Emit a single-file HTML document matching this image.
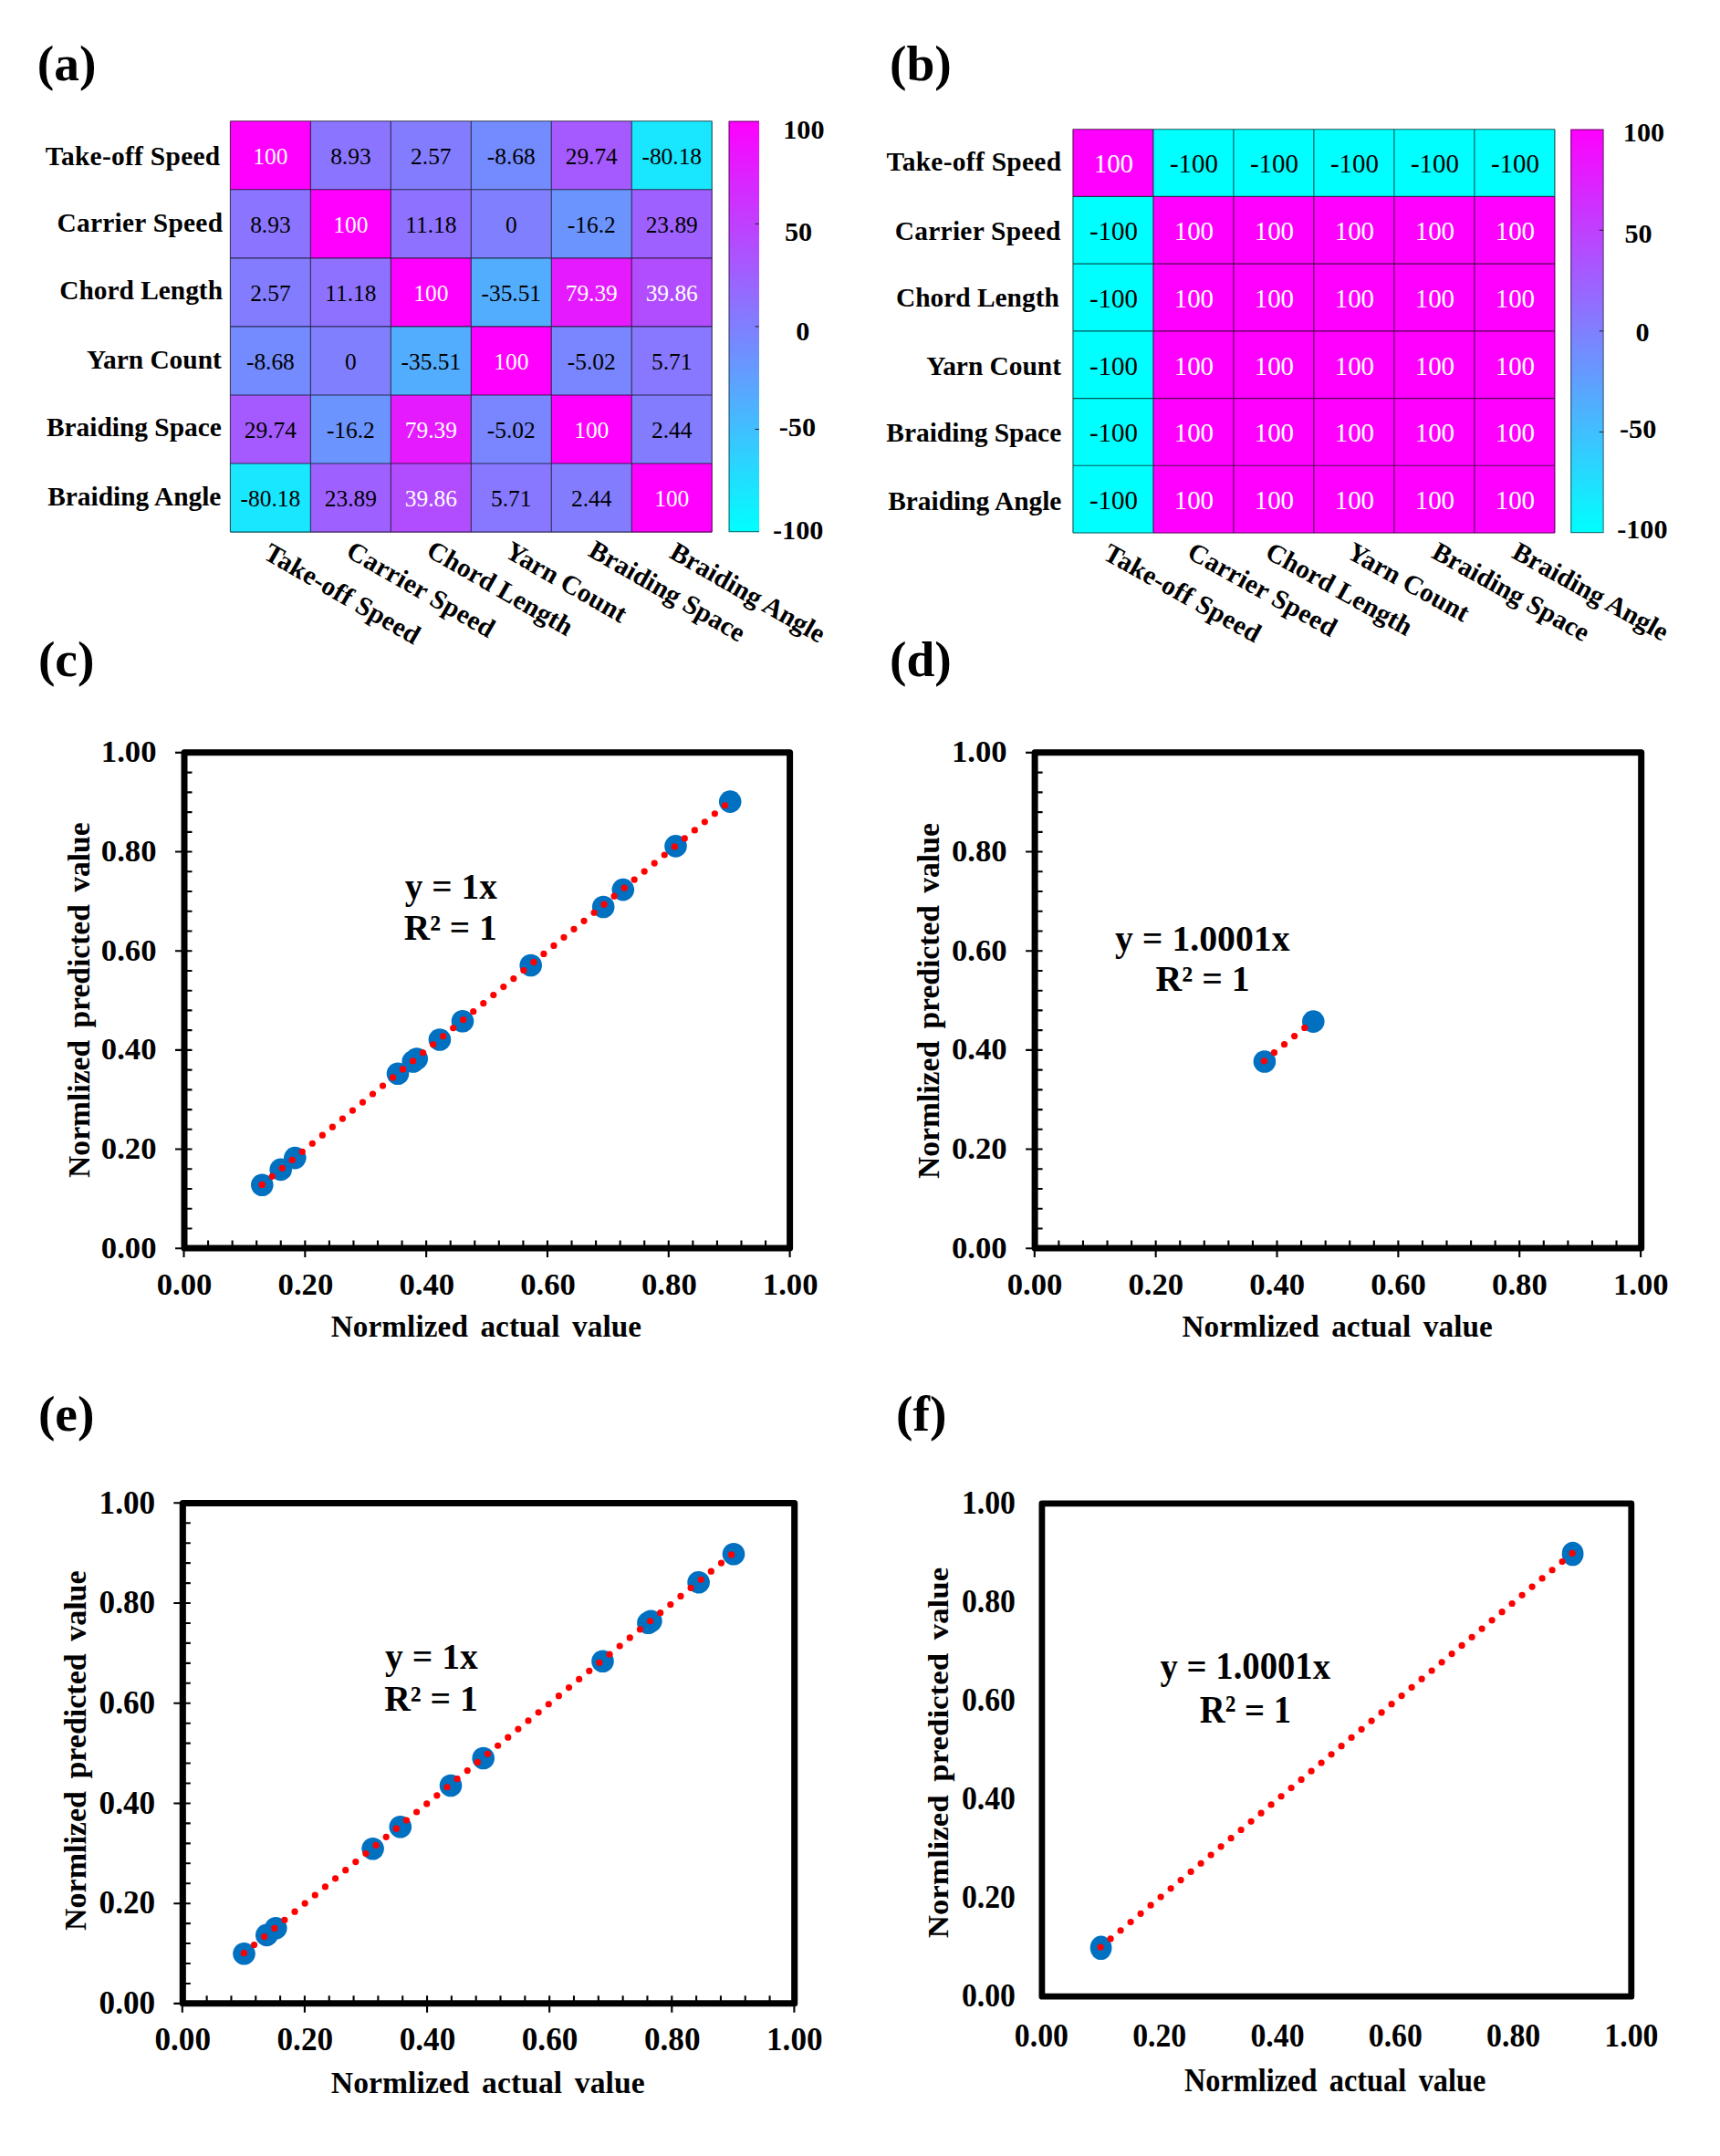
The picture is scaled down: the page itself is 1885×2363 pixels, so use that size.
<!DOCTYPE html>
<html lang="en"><head><meta charset="utf-8"><title>Figure</title>
<style>html,body{margin:0;padding:0;background:#fff}svg{display:block}text{font-family:'Liberation Serif', serif;white-space:pre}</style>
</head><body>
<svg width="1885" height="2363" viewBox="0 0 1885 2363">
<defs><linearGradient id="cool" x1="0" y1="0" x2="0" y2="1"><stop offset="0" stop-color="#ff00ff"/><stop offset="1" stop-color="#00ffff"/></linearGradient></defs>
<rect width="1885" height="2363" fill="#fff"/>
<g font-size="55.5" font-weight="bold">
<text x="40.7" y="88">(a)</text>
<text x="975" y="88">(b)</text>
<text x="41.9" y="740.6">(c)</text>
<text x="975" y="740.6">(d)</text>
<text x="41.9" y="1567.8">(e)</text>
<text x="982" y="1567.8">(f)</text>
</g>
<g>
<rect x="252.4" y="132.7" width="88.27" height="75.37" fill="#ff00ff"/>
<rect x="340.37" y="132.7" width="88.27" height="75.37" fill="#8b74ff"/>
<rect x="428.34" y="132.7" width="88.27" height="75.37" fill="#837cff"/>
<rect x="516.31" y="132.7" width="88.27" height="75.37" fill="#748bff"/>
<rect x="604.28" y="132.7" width="88.27" height="75.37" fill="#a55aff"/>
<rect x="692.25" y="132.7" width="88.27" height="75.37" fill="#19e6ff"/>
<rect x="252.4" y="207.77" width="88.27" height="75.37" fill="#8b74ff"/>
<rect x="340.37" y="207.77" width="88.27" height="75.37" fill="#ff00ff"/>
<rect x="428.34" y="207.77" width="88.27" height="75.37" fill="#8e71ff"/>
<rect x="516.31" y="207.77" width="88.27" height="75.37" fill="#8080ff"/>
<rect x="604.28" y="207.77" width="88.27" height="75.37" fill="#6b94ff"/>
<rect x="692.25" y="207.77" width="88.27" height="75.37" fill="#9e61ff"/>
<rect x="252.4" y="282.84" width="88.27" height="75.37" fill="#837cff"/>
<rect x="340.37" y="282.84" width="88.27" height="75.37" fill="#8e71ff"/>
<rect x="428.34" y="282.84" width="88.27" height="75.37" fill="#ff00ff"/>
<rect x="516.31" y="282.84" width="88.27" height="75.37" fill="#52adff"/>
<rect x="604.28" y="282.84" width="88.27" height="75.37" fill="#e51aff"/>
<rect x="692.25" y="282.84" width="88.27" height="75.37" fill="#b24dff"/>
<rect x="252.4" y="357.91" width="88.27" height="75.37" fill="#748bff"/>
<rect x="340.37" y="357.91" width="88.27" height="75.37" fill="#8080ff"/>
<rect x="428.34" y="357.91" width="88.27" height="75.37" fill="#52adff"/>
<rect x="516.31" y="357.91" width="88.27" height="75.37" fill="#ff00ff"/>
<rect x="604.28" y="357.91" width="88.27" height="75.37" fill="#7986ff"/>
<rect x="692.25" y="357.91" width="88.27" height="75.37" fill="#8778ff"/>
<rect x="252.4" y="432.98" width="88.27" height="75.37" fill="#a55aff"/>
<rect x="340.37" y="432.98" width="88.27" height="75.37" fill="#6b94ff"/>
<rect x="428.34" y="432.98" width="88.27" height="75.37" fill="#e51aff"/>
<rect x="516.31" y="432.98" width="88.27" height="75.37" fill="#7986ff"/>
<rect x="604.28" y="432.98" width="88.27" height="75.37" fill="#ff00ff"/>
<rect x="692.25" y="432.98" width="88.27" height="75.37" fill="#837cff"/>
<rect x="252.4" y="508.05" width="88.27" height="75.37" fill="#19e6ff"/>
<rect x="340.37" y="508.05" width="88.27" height="75.37" fill="#9e61ff"/>
<rect x="428.34" y="508.05" width="88.27" height="75.37" fill="#b24dff"/>
<rect x="516.31" y="508.05" width="88.27" height="75.37" fill="#8778ff"/>
<rect x="604.28" y="508.05" width="88.27" height="75.37" fill="#837cff"/>
<rect x="692.25" y="508.05" width="88.27" height="75.37" fill="#ff00ff"/>
<path d="M252.4 132.7V583.12M252.4 132.7H780.22M340.37 132.7V583.12M252.4 207.77H780.22M428.34 132.7V583.12M252.4 282.84H780.22M516.31 132.7V583.12M252.4 357.91H780.22M604.28 132.7V583.12M252.4 432.98H780.22M692.25 132.7V583.12M252.4 508.05H780.22M780.22 132.7V583.12M252.4 583.12H780.22" stroke="#000" stroke-opacity="0.68" stroke-width="1.1" fill="none"/>
<g font-size="25.4" text-anchor="middle">
<text x="296.38" y="179.73" fill="#fff">100</text>
<text x="384.36" y="179.73">8.93</text>
<text x="472.33" y="179.73">2.57</text>
<text x="560.29" y="179.73">-8.68</text>
<text x="648.26" y="179.73">29.74</text>
<text x="736.24" y="179.73">-80.18</text>
<text x="296.38" y="254.8">8.93</text>
<text x="384.36" y="254.8" fill="#fff">100</text>
<text x="472.33" y="254.8">11.18</text>
<text x="560.29" y="254.8">0</text>
<text x="648.26" y="254.8">-16.2</text>
<text x="736.24" y="254.8">23.89</text>
<text x="296.38" y="329.88">2.57</text>
<text x="384.36" y="329.88">11.18</text>
<text x="472.33" y="329.88" fill="#fff">100</text>
<text x="560.29" y="329.88">-35.51</text>
<text x="648.26" y="329.88" fill="#fff">79.39</text>
<text x="736.24" y="329.88" fill="#fff">39.86</text>
<text x="296.38" y="404.94">-8.68</text>
<text x="384.36" y="404.94">0</text>
<text x="472.33" y="404.94">-35.51</text>
<text x="560.29" y="404.94" fill="#fff">100</text>
<text x="648.26" y="404.94">-5.02</text>
<text x="736.24" y="404.94">5.71</text>
<text x="296.38" y="480.01">29.74</text>
<text x="384.36" y="480.01">-16.2</text>
<text x="472.33" y="480.01" fill="#fff">79.39</text>
<text x="560.29" y="480.01">-5.02</text>
<text x="648.26" y="480.01" fill="#fff">100</text>
<text x="736.24" y="480.01">2.44</text>
<text x="296.38" y="555.09">-80.18</text>
<text x="384.36" y="555.09">23.89</text>
<text x="472.33" y="555.09" fill="#fff">39.86</text>
<text x="560.29" y="555.09">5.71</text>
<text x="648.26" y="555.09">2.44</text>
<text x="736.24" y="555.09" fill="#fff">100</text>
</g>
<g font-size="29.4" font-weight="bold" text-anchor="end">
<text x="241.2" y="181" textLength="191.5">Take-off Speed</text>
<text x="244" y="254.4" textLength="181.5">Carrier Speed</text>
<text x="244" y="327.9">Chord Length</text>
<text x="242.8" y="404">Yarn Count</text>
<text x="242.8" y="478.4">Braiding Space</text>
<text x="242.4" y="553.7">Braiding Angle</text>
</g>
<g font-size="29.4" font-weight="bold">
<text transform="translate(287.4 611.5) rotate(29.9)" textLength="191.5">Take-off Speed</text>
<text transform="translate(377.87 609.2) rotate(29.9)" textLength="181.5">Carrier Speed</text>
<text transform="translate(465.84 608.5) rotate(29.9)">Chord Length</text>
<text transform="translate(551.81 609.6) rotate(29.9)">Yarn Count</text>
<text transform="translate(643.28 608.5) rotate(29.9)">Braiding Space</text>
<text transform="translate(732.25 610.5) rotate(29.9)">Braiding Angle</text>
</g>
<rect x="798.6" y="132.7" width="33.4" height="450.42" fill="url(#cool)"/>
<path d="M832 133.1H799.1V582.72H832" stroke="#000" stroke-opacity="0.5" stroke-width="1.2" fill="none"/>
<path d="M827.5 245.3H832M827.5 357.91H832M827.5 470.51H832" stroke="#202020" stroke-width="1" fill="none"/>
<g font-size="30.2" font-weight="bold">
<text x="858.2" y="151.6">100</text>
<text x="860" y="263.5">50</text>
<text x="872.2" y="372.8">0</text>
<text x="853.8" y="477.6">-50</text>
<text x="847" y="591">-100</text>
</g>
</g>
<g>
<rect x="1175.9" y="141.7" width="88.3" height="74.02" fill="#ff00ff"/>
<rect x="1263.9" y="141.7" width="88.3" height="74.02" fill="#00ffff"/>
<rect x="1351.9" y="141.7" width="88.3" height="74.02" fill="#00ffff"/>
<rect x="1439.9" y="141.7" width="88.3" height="74.02" fill="#00ffff"/>
<rect x="1527.9" y="141.7" width="88.3" height="74.02" fill="#00ffff"/>
<rect x="1615.9" y="141.7" width="88.3" height="74.02" fill="#00ffff"/>
<rect x="1175.9" y="215.42" width="88.3" height="74.02" fill="#00ffff"/>
<rect x="1263.9" y="215.42" width="88.3" height="74.02" fill="#ff00ff"/>
<rect x="1351.9" y="215.42" width="88.3" height="74.02" fill="#ff00ff"/>
<rect x="1439.9" y="215.42" width="88.3" height="74.02" fill="#ff00ff"/>
<rect x="1527.9" y="215.42" width="88.3" height="74.02" fill="#ff00ff"/>
<rect x="1615.9" y="215.42" width="88.3" height="74.02" fill="#ff00ff"/>
<rect x="1175.9" y="289.14" width="88.3" height="74.02" fill="#00ffff"/>
<rect x="1263.9" y="289.14" width="88.3" height="74.02" fill="#ff00ff"/>
<rect x="1351.9" y="289.14" width="88.3" height="74.02" fill="#ff00ff"/>
<rect x="1439.9" y="289.14" width="88.3" height="74.02" fill="#ff00ff"/>
<rect x="1527.9" y="289.14" width="88.3" height="74.02" fill="#ff00ff"/>
<rect x="1615.9" y="289.14" width="88.3" height="74.02" fill="#ff00ff"/>
<rect x="1175.9" y="362.86" width="88.3" height="74.02" fill="#00ffff"/>
<rect x="1263.9" y="362.86" width="88.3" height="74.02" fill="#ff00ff"/>
<rect x="1351.9" y="362.86" width="88.3" height="74.02" fill="#ff00ff"/>
<rect x="1439.9" y="362.86" width="88.3" height="74.02" fill="#ff00ff"/>
<rect x="1527.9" y="362.86" width="88.3" height="74.02" fill="#ff00ff"/>
<rect x="1615.9" y="362.86" width="88.3" height="74.02" fill="#ff00ff"/>
<rect x="1175.9" y="436.58" width="88.3" height="74.02" fill="#00ffff"/>
<rect x="1263.9" y="436.58" width="88.3" height="74.02" fill="#ff00ff"/>
<rect x="1351.9" y="436.58" width="88.3" height="74.02" fill="#ff00ff"/>
<rect x="1439.9" y="436.58" width="88.3" height="74.02" fill="#ff00ff"/>
<rect x="1527.9" y="436.58" width="88.3" height="74.02" fill="#ff00ff"/>
<rect x="1615.9" y="436.58" width="88.3" height="74.02" fill="#ff00ff"/>
<rect x="1175.9" y="510.3" width="88.3" height="74.02" fill="#00ffff"/>
<rect x="1263.9" y="510.3" width="88.3" height="74.02" fill="#ff00ff"/>
<rect x="1351.9" y="510.3" width="88.3" height="74.02" fill="#ff00ff"/>
<rect x="1439.9" y="510.3" width="88.3" height="74.02" fill="#ff00ff"/>
<rect x="1527.9" y="510.3" width="88.3" height="74.02" fill="#ff00ff"/>
<rect x="1615.9" y="510.3" width="88.3" height="74.02" fill="#ff00ff"/>
<path d="M1175.9 141.7V584.02M1175.9 141.7H1703.9M1263.9 141.7V584.02M1175.9 215.42H1703.9M1351.9 141.7V584.02M1175.9 289.14H1703.9M1439.9 141.7V584.02M1175.9 362.86H1703.9M1527.9 141.7V584.02M1175.9 436.58H1703.9M1615.9 141.7V584.02M1175.9 510.3H1703.9M1703.9 141.7V584.02M1175.9 584.02H1703.9" stroke="#000" stroke-opacity="0.68" stroke-width="1.1" fill="none"/>
<g font-size="28.9" text-anchor="middle">
<text x="1220.4" y="189.46" fill="#fff">100</text>
<text x="1308.4" y="189.46">-100</text>
<text x="1396.4" y="189.46">-100</text>
<text x="1484.4" y="189.46">-100</text>
<text x="1572.4" y="189.46">-100</text>
<text x="1660.4" y="189.46">-100</text>
<text x="1220.4" y="263.18">-100</text>
<text x="1308.4" y="263.18" fill="#fff">100</text>
<text x="1396.4" y="263.18" fill="#fff">100</text>
<text x="1484.4" y="263.18" fill="#fff">100</text>
<text x="1572.4" y="263.18" fill="#fff">100</text>
<text x="1660.4" y="263.18" fill="#fff">100</text>
<text x="1220.4" y="336.9">-100</text>
<text x="1308.4" y="336.9" fill="#fff">100</text>
<text x="1396.4" y="336.9" fill="#fff">100</text>
<text x="1484.4" y="336.9" fill="#fff">100</text>
<text x="1572.4" y="336.9" fill="#fff">100</text>
<text x="1660.4" y="336.9" fill="#fff">100</text>
<text x="1220.4" y="410.62">-100</text>
<text x="1308.4" y="410.62" fill="#fff">100</text>
<text x="1396.4" y="410.62" fill="#fff">100</text>
<text x="1484.4" y="410.62" fill="#fff">100</text>
<text x="1572.4" y="410.62" fill="#fff">100</text>
<text x="1660.4" y="410.62" fill="#fff">100</text>
<text x="1220.4" y="484.34">-100</text>
<text x="1308.4" y="484.34" fill="#fff">100</text>
<text x="1396.4" y="484.34" fill="#fff">100</text>
<text x="1484.4" y="484.34" fill="#fff">100</text>
<text x="1572.4" y="484.34" fill="#fff">100</text>
<text x="1660.4" y="484.34" fill="#fff">100</text>
<text x="1220.4" y="558.06">-100</text>
<text x="1308.4" y="558.06" fill="#fff">100</text>
<text x="1396.4" y="558.06" fill="#fff">100</text>
<text x="1484.4" y="558.06" fill="#fff">100</text>
<text x="1572.4" y="558.06" fill="#fff">100</text>
<text x="1660.4" y="558.06" fill="#fff">100</text>
</g>
<g font-size="29.4" font-weight="bold" text-anchor="end">
<text x="1163" y="186.5" textLength="191.5">Take-off Speed</text>
<text x="1162.3" y="263.3" textLength="181.5">Carrier Speed</text>
<text x="1160.8" y="335.8">Chord Length</text>
<text x="1163" y="410.9">Yarn Count</text>
<text x="1163.2" y="484.2">Braiding Space</text>
<text x="1163.4" y="558.8">Braiding Angle</text>
</g>
<g font-size="29.4" font-weight="bold">
<text transform="translate(1207.6 611.9) rotate(29.1)" textLength="191.5">Take-off Speed</text>
<text transform="translate(1299.6 610.5) rotate(29.1)" textLength="181.5">Carrier Speed</text>
<text transform="translate(1384.9 610.5) rotate(29.1)">Chord Length</text>
<text transform="translate(1474.4 610.5) rotate(29.1)">Yarn Count</text>
<text transform="translate(1567.4 610.5) rotate(29.1)">Braiding Space</text>
<text transform="translate(1655.4 610.5) rotate(29.1)">Braiding Angle</text>
</g>
<rect x="1721.3" y="141.7" width="35.9" height="442.32" fill="url(#cool)"/>
<path d="M1757.2 142.1H1721.8V583.62H1757.2Z" stroke="#000" stroke-opacity="0.5" stroke-width="1.2" fill="none"/>
<path d="M1752.7 252.28H1757.2M1752.7 362.86H1757.2M1752.7 473.44H1757.2" stroke="#202020" stroke-width="1" fill="none"/>
<g font-size="30.2" font-weight="bold">
<text x="1778.8" y="154.7">100</text>
<text x="1780.4" y="266.3">50</text>
<text x="1792.5" y="374.3">0</text>
<text x="1775" y="479.9">-50</text>
<text x="1772.2" y="590.1">-100</text>
</g>
</g>
<g>
<g fill="#0070c0">
<circle cx="287.3" cy="1298.8" r="12.3"/>
<circle cx="307.7" cy="1281.9" r="12.3"/>
<circle cx="323.3" cy="1269.1" r="12.3"/>
<circle cx="436" cy="1176.7" r="12.3"/>
<circle cx="452.7" cy="1163.5" r="12.3"/>
<circle cx="456.7" cy="1160.5" r="12.3"/>
<circle cx="481.9" cy="1139.5" r="12.3"/>
<circle cx="507" cy="1119.3" r="12.3"/>
<circle cx="581.7" cy="1058" r="12.3"/>
<circle cx="661.2" cy="994" r="12.3"/>
<circle cx="682.8" cy="975.1" r="12.3"/>
<circle cx="740.5" cy="927.4" r="12.3"/>
<circle cx="800.2" cy="878.6" r="12.3"/>
</g>
<path d="M287.2 1298.4L800 878.2" stroke="#ff0000" stroke-width="7.2" stroke-linecap="round" stroke-dasharray="0 14.255" fill="none"/>
<rect x="202" y="824.8" width="663.6" height="543.1" fill="none" stroke="#000" stroke-width="7" stroke-linejoin="round"/>
<path d="M192 1368.2H210.5M202 1346.47H210.5M202 1324.74H210.5M202 1303H210.5M202 1281.27H210.5M192 1259.54H210.5M202 1237.81H210.5M202 1216.08H210.5M202 1194.34H210.5M202 1172.61H210.5M192 1150.88H210.5M202 1129.15H210.5M202 1107.42H210.5M202 1085.68H210.5M202 1063.95H210.5M192 1042.22H210.5M202 1020.49H210.5M202 998.76H210.5M202 977.02H210.5M202 955.29H210.5M192 933.56H210.5M202 911.83H210.5M202 890.1H210.5M202 868.36H210.5M202 846.63H210.5M192 824.9H210.5M201.5 1377.9V1359.4M228.06 1367.9V1359.4M254.63 1367.9V1359.4M281.19 1367.9V1359.4M307.76 1367.9V1359.4M334.32 1377.9V1359.4M360.88 1367.9V1359.4M387.45 1367.9V1359.4M414.01 1367.9V1359.4M440.58 1367.9V1359.4M467.14 1377.9V1359.4M493.7 1367.9V1359.4M520.27 1367.9V1359.4M546.83 1367.9V1359.4M573.4 1367.9V1359.4M599.96 1377.9V1359.4M626.52 1367.9V1359.4M653.09 1367.9V1359.4M679.65 1367.9V1359.4M706.22 1367.9V1359.4M732.78 1377.9V1359.4M759.34 1367.9V1359.4M785.91 1367.9V1359.4M812.47 1367.9V1359.4M839.04 1367.9V1359.4M865.6 1377.9V1359.4" stroke="#000" stroke-width="2.1" fill="none"/>
<g font-size="34.7" font-weight="bold">
<g text-anchor="end">
<text x="171.5" y="1378.6">0.00</text>
<text x="171.5" y="1269.94">0.20</text>
<text x="171.5" y="1161.28">0.40</text>
<text x="171.5" y="1052.62">0.60</text>
<text x="171.5" y="943.96">0.80</text>
<text x="171.5" y="835.3">1.00</text>
</g><g text-anchor="middle">
<text x="202.1" y="1419.2">0.00</text>
<text x="334.92" y="1419.2">0.20</text>
<text x="467.74" y="1419.2">0.40</text>
<text x="600.56" y="1419.2">0.60</text>
<text x="733.38" y="1419.2">0.80</text>
<text x="866.2" y="1419.2">1.00</text>
</g></g>
<text x="362.8" y="1464.9" font-size="33.2" font-weight="bold" word-spacing="5" textLength="340.2" lengthAdjust="spacing">Normlized actual value</text>
<text transform="translate(98.1 1290.9) rotate(-90)" font-size="34.3" font-weight="bold" word-spacing="5" textLength="389.6" lengthAdjust="spacingAndGlyphs">Normlized predicted value</text>
<text x="443.8" y="984.5" font-size="39.3" font-weight="bold">y = 1x</text>
<text x="442.8" y="1029.8" font-size="39.3" font-weight="bold">R² = 1</text>
</g>
<g>
<g fill="#0070c0">
<circle cx="1385.9" cy="1163.5" r="12.3"/>
<circle cx="1439.3" cy="1119.6" r="12.3"/>
</g>
<path d="M1385.4 1162.8L1432 1124.6" stroke="#ff0000" stroke-width="7.2" stroke-linecap="round" stroke-dasharray="0 14.318" fill="none"/>
<rect x="1134.1" y="824.8" width="664.6" height="543.1" fill="none" stroke="#000" stroke-width="7" stroke-linejoin="round"/>
<path d="M1124.1 1368.2H1142.6M1134.1 1346.47H1142.6M1134.1 1324.74H1142.6M1134.1 1303H1142.6M1134.1 1281.27H1142.6M1124.1 1259.54H1142.6M1134.1 1237.81H1142.6M1134.1 1216.08H1142.6M1134.1 1194.34H1142.6M1134.1 1172.61H1142.6M1124.1 1150.88H1142.6M1134.1 1129.15H1142.6M1134.1 1107.42H1142.6M1134.1 1085.68H1142.6M1134.1 1063.95H1142.6M1124.1 1042.22H1142.6M1134.1 1020.49H1142.6M1134.1 998.76H1142.6M1134.1 977.02H1142.6M1134.1 955.29H1142.6M1124.1 933.56H1142.6M1134.1 911.83H1142.6M1134.1 890.1H1142.6M1134.1 868.36H1142.6M1134.1 846.63H1142.6M1124.1 824.9H1142.6M1133.8 1377.9V1359.4M1160.37 1367.9V1359.4M1186.94 1367.9V1359.4M1213.52 1367.9V1359.4M1240.09 1367.9V1359.4M1266.66 1377.9V1359.4M1293.23 1367.9V1359.4M1319.8 1367.9V1359.4M1346.38 1367.9V1359.4M1372.95 1367.9V1359.4M1399.52 1377.9V1359.4M1426.09 1367.9V1359.4M1452.66 1367.9V1359.4M1479.24 1367.9V1359.4M1505.81 1367.9V1359.4M1532.38 1377.9V1359.4M1558.95 1367.9V1359.4M1585.52 1367.9V1359.4M1612.1 1367.9V1359.4M1638.67 1367.9V1359.4M1665.24 1377.9V1359.4M1691.81 1367.9V1359.4M1718.38 1367.9V1359.4M1744.96 1367.9V1359.4M1771.53 1367.9V1359.4M1798.1 1377.9V1359.4" stroke="#000" stroke-width="2.1" fill="none"/>
<g font-size="34.7" font-weight="bold">
<g text-anchor="end">
<text x="1103.7" y="1378.6">0.00</text>
<text x="1103.7" y="1269.94">0.20</text>
<text x="1103.7" y="1161.28">0.40</text>
<text x="1103.7" y="1052.62">0.60</text>
<text x="1103.7" y="943.96">0.80</text>
<text x="1103.7" y="835.3">1.00</text>
</g><g text-anchor="middle">
<text x="1134" y="1419.2">0.00</text>
<text x="1266.86" y="1419.2">0.20</text>
<text x="1399.72" y="1419.2">0.40</text>
<text x="1532.58" y="1419.2">0.60</text>
<text x="1665.44" y="1419.2">0.80</text>
<text x="1798.3" y="1419.2">1.00</text>
</g></g>
<text x="1295.5" y="1465.4" font-size="33.2" font-weight="bold" word-spacing="5" textLength="340.3" lengthAdjust="spacing">Normlized actual value</text>
<text transform="translate(1028.8 1292) rotate(-90)" font-size="34" font-weight="bold" word-spacing="5" textLength="389.8" lengthAdjust="spacingAndGlyphs">Normlized predicted value</text>
<text x="1222" y="1041.5" font-size="39.75" font-weight="bold">y = 1.0001x</text>
<text x="1266.6" y="1086" font-size="39.75" font-weight="bold">R² = 1</text>
</g>
<g>
<g fill="#0070c0">
<circle cx="267.5" cy="2141.2" r="12.3"/>
<circle cx="292.3" cy="2120.9" r="12.3"/>
<circle cx="302.3" cy="2113.3" r="12.3"/>
<circle cx="408.6" cy="2026.3" r="12.3"/>
<circle cx="438.8" cy="2002.3" r="12.3"/>
<circle cx="494" cy="1957" r="12.3"/>
<circle cx="529.7" cy="1927" r="12.3"/>
<circle cx="660.5" cy="1820.7" r="12.3"/>
<circle cx="710.4" cy="1778.8" r="12.3"/>
<circle cx="713.4" cy="1776.8" r="12.3"/>
<circle cx="765.6" cy="1734.2" r="12.3"/>
<circle cx="804" cy="1703.3" r="12.3"/>
</g>
<path d="M267.4 2140.7L804 1702" stroke="#ff0000" stroke-width="7.2" stroke-linecap="round" stroke-dasharray="0 14.375" fill="none"/>
<rect x="200.3" y="1647.5" width="670.4" height="548.3" fill="none" stroke="#000" stroke-width="7.1" stroke-linejoin="round"/>
<path d="M190.3 2195.9H208.8M200.3 2173.96H208.8M200.3 2152.01H208.8M200.3 2130.07H208.8M200.3 2108.12H208.8M190.3 2086.18H208.8M200.3 2064.24H208.8M200.3 2042.29H208.8M200.3 2020.35H208.8M200.3 1998.4H208.8M190.3 1976.46H208.8M200.3 1954.52H208.8M200.3 1932.57H208.8M200.3 1910.63H208.8M200.3 1888.68H208.8M190.3 1866.74H208.8M200.3 1844.8H208.8M200.3 1822.85H208.8M200.3 1800.91H208.8M200.3 1778.96H208.8M190.3 1757.02H208.8M200.3 1735.08H208.8M200.3 1713.13H208.8M200.3 1691.19H208.8M200.3 1669.24H208.8M190.3 1647.3H208.8M199.8 2205.8V2187.3M226.62 2195.8V2187.3M253.45 2195.8V2187.3M280.27 2195.8V2187.3M307.1 2195.8V2187.3M333.92 2205.8V2187.3M360.74 2195.8V2187.3M387.57 2195.8V2187.3M414.39 2195.8V2187.3M441.22 2195.8V2187.3M468.04 2205.8V2187.3M494.86 2195.8V2187.3M521.69 2195.8V2187.3M548.51 2195.8V2187.3M575.34 2195.8V2187.3M602.16 2205.8V2187.3M628.98 2195.8V2187.3M655.81 2195.8V2187.3M682.63 2195.8V2187.3M709.46 2195.8V2187.3M736.28 2205.8V2187.3M763.1 2195.8V2187.3M789.93 2195.8V2187.3M816.75 2195.8V2187.3M843.58 2195.8V2187.3M870.4 2205.8V2187.3" stroke="#000" stroke-width="2.1" fill="none"/>
<g font-size="35.2" font-weight="bold">
<g text-anchor="end">
<text x="170.2" y="2207.1">0.00</text>
<text x="170.2" y="2097.38">0.20</text>
<text x="170.2" y="1987.66">0.40</text>
<text x="170.2" y="1877.94">0.60</text>
<text x="170.2" y="1768.22">0.80</text>
<text x="170.2" y="1658.5">1.00</text>
</g><g text-anchor="middle">
<text x="200.2" y="2247.4">0.00</text>
<text x="334.32" y="2247.4">0.20</text>
<text x="468.44" y="2247.4">0.40</text>
<text x="602.56" y="2247.4">0.60</text>
<text x="736.68" y="2247.4">0.80</text>
<text x="870.8" y="2247.4">1.00</text>
</g></g>
<text x="362.8" y="2294.2" font-size="33.6" font-weight="bold" word-spacing="5" textLength="343.8" lengthAdjust="spacing">Normlized actual value</text>
<text transform="translate(93.8 2116) rotate(-90)" font-size="34.2" font-weight="bold" word-spacing="5" textLength="394.6" lengthAdjust="spacingAndGlyphs">Normlized predicted value</text>
<text x="422" y="1829.1" font-size="39.6" font-weight="bold">y = 1x</text>
<text x="421.2" y="1874.7" font-size="39.6" font-weight="bold">R² = 1</text>
</g>
<g>
<g fill="#0070c0">
<ellipse cx="1206.6" cy="2134.8" rx="11.9" ry="13.3"/>
<ellipse cx="1723.6" cy="1703" rx="11.9" ry="13.3"/>
</g>
<path d="M1206.1 2134.1L1723.2 1702.3" stroke="#ff0000" stroke-width="7.2" stroke-linecap="round" stroke-dasharray="0 14.331" fill="none"/>
<rect x="1141.9" y="1647.9" width="645.9" height="540.3" fill="none" stroke="#000" stroke-width="6.8" stroke-linejoin="round"/>
<g font-size="34.7" font-weight="bold">
<g text-anchor="end">
<text transform="translate(1113 2199) scale(0.973 1.005)">0.00</text>
<text transform="translate(1113 2090.94) scale(0.973 1.005)">0.20</text>
<text transform="translate(1113 1982.88) scale(0.973 1.005)">0.40</text>
<text transform="translate(1113 1874.82) scale(0.973 1.005)">0.60</text>
<text transform="translate(1113 1766.76) scale(0.973 1.005)">0.80</text>
<text transform="translate(1113 1658.7) scale(0.973 1.005)">1.00</text>
</g><g text-anchor="middle">
<text transform="translate(1141.4 2242.7) scale(0.973 1.005)">0.00</text>
<text transform="translate(1270.7 2242.7) scale(0.973 1.005)">0.20</text>
<text transform="translate(1400 2242.7) scale(0.973 1.005)">0.40</text>
<text transform="translate(1529.3 2242.7) scale(0.973 1.005)">0.60</text>
<text transform="translate(1658.6 2242.7) scale(0.973 1.005)">0.80</text>
<text transform="translate(1787.9 2242.7) scale(0.973 1.005)">1.00</text>
</g></g>
<text transform="translate(1298 2291.5) scale(0.973 1.075)" font-size="33.2" font-weight="bold" word-spacing="5.5" textLength="339.47" lengthAdjust="spacing">Normlized actual value</text>
<text transform="translate(1038.8 2124.3) rotate(-90)" font-size="32.5" font-weight="bold" word-spacing="5.5" textLength="406.5" lengthAdjust="spacingAndGlyphs">Normlized predicted value</text>
<text transform="translate(1271.6 1839.7) scale(0.973 1.075)" font-size="39.75" font-weight="bold">y = 1.0001x</text>
<text transform="translate(1314.8 1888.1) scale(0.973 1.075)" font-size="39.75" font-weight="bold">R² = 1</text>
</g>
</svg>
</body></html>
